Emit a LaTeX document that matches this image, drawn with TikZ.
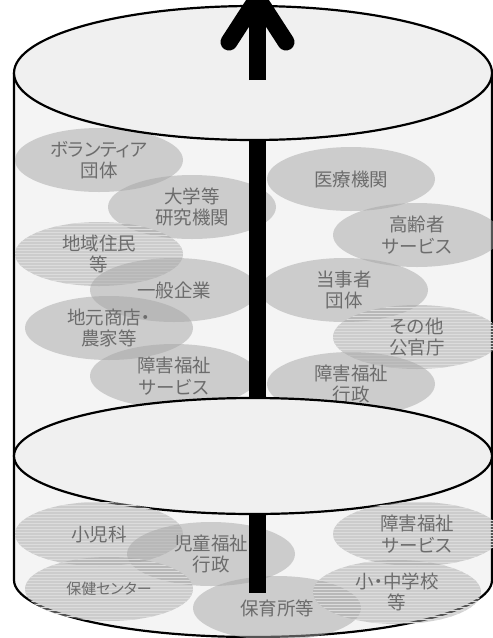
\documentclass[tikz,border=0pt]{standalone}
\usepackage{fontspec}
\setmainfont{Noto Sans CJK JP}[RawFeature=+palt]
\usetikzlibrary{shapes.geometric,patterns}
\definecolor{bodyc}{HTML}{F4F4F4}
\definecolor{lidc}{HTML}{F0F0F0}
\definecolor{bubc}{HTML}{A6A6A6}
\definecolor{txtc}{HTML}{6C6C6C}
\definecolor{hatchc}{HTML}{DCDCDC}
\begin{document}
\begin{tikzpicture}[x=1pt,y=-1pt,
  bubble/.style={ellipse, minimum width=168pt, minimum height=64pt, inner sep=0pt,
    fill=bubc, fill opacity=0.5, text opacity=1, text=txtc, align=center,
    font=\fontsize{18.5}{21.5}\selectfont},
  hatched/.style={postaction={pattern=horizontal lines, pattern color=hatchc}},
  small/.style={font=\fontsize{15}{18}\selectfont},
  rim/.style={draw=black, line width=2.2pt},
  bar/.style={line width=17.5pt}]
\useasboundingbox (0,0) rectangle (493,638);
% cylinder body
\fill[bodyc] (14,73) -- (14,580) arc[start angle=180, end angle=0, x radius=239, y radius=57] -- (492,73) -- cycle;
\draw[rim] (14,73) -- (14,580) arc[start angle=180, end angle=0, x radius=239, y radius=57] -- (492,73);
% upper bubbles
\node[bubble] (vol) at (99,160) {ボランティア\\団体};
\node[bubble] (uni) at (192,207) {大学等\\研究機関};
\node[bubble,hatched] (res) at (99,254) {地域住民\\等};
\node[bubble] (ent) at (174,290) {一般企業};
\node[bubble] (shop) at (109,328) {地元商店・\\農家等};
\node[bubble] (dsvc) at (174,376) {障害福祉\\サービス};
\node[bubble] (med) at (351,179) {医療機関};
\node[bubble] (eld) at (417,235) {高齢者\\サービス};
\node[bubble] (self) at (344,290) {当事者\\団体};
\node[bubble,hatched] (gov) at (417,337) {その他\\公官庁};
\node[bubble] (dadm) at (351,384) {障害福祉\\行政};
% middle bar
\coordinate (m1) at (257.5,110);
\coordinate (m2) at (257.5,452);
\draw[bar] (m1) -- (m2);
% middle lid
\filldraw[fill=lidc, rim] (253,456) ellipse[x radius=239, y radius=58];
% lower bubbles
\node[bubble,hatched] (ped) at (99,534) {小児科};
\node[bubble] (cadm) at (211,554) {児童福祉\\行政};
\node[bubble,hatched,small] (hc) at (109,589) {保健センター};
\node[bubble] (nur) at (277,608) {保育所等};
\node[bubble,hatched] (dsvc2) at (417,534) {障害福祉\\サービス};
\node[bubble,hatched] (sch) at (397,592) {小・中学校\\等};
% lower bar
\coordinate (l1) at (257.5,514);
\coordinate (l2) at (257.5,593);
\draw[bar] (l1) -- (l2);
% top lid
\filldraw[fill=lidc, rim] (253,73) ellipse[x radius=239, y radius=67];
% arrow
\coordinate (a1) at (257.5,80);
\coordinate (a2) at (257.5,4);
\coordinate (al) at (229,42);
\coordinate (ar) at (286,42);
\draw[bar] (a1) -- (a2);
\draw[line width=17pt, line cap=round, line join=miter] (al) -- (257.5,-2) -- (ar);
\end{tikzpicture}
\end{document}
